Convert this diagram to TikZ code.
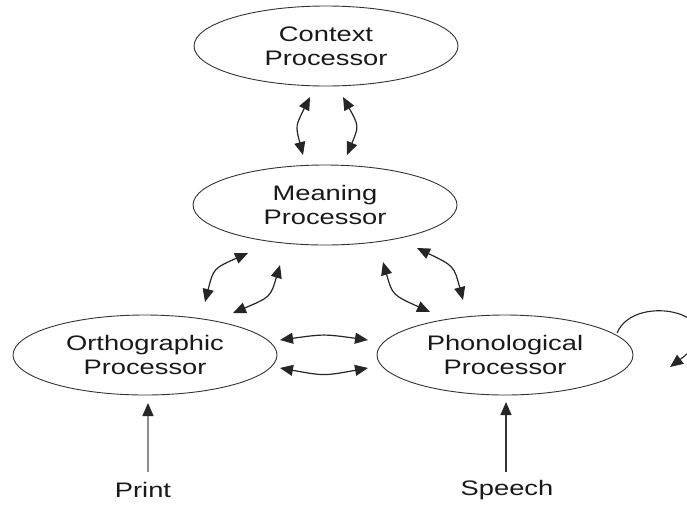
\documentclass[tikz,border=0pt]{standalone}
\usepackage{fontspec}
\setmainfont{Liberation Sans}
\usepackage{graphicx}
\usetikzlibrary{shapes.geometric,arrows.meta,calc}
\newcommand{\hs}[1]{\scalebox{1.3}[1]{#1}}
\begin{document}
\begin{tikzpicture}[x=1pt,y=-1pt,
  proc/.style={ellipse, draw=black!80, line width=0.9pt, minimum width=264pt, minimum height=80pt, inner sep=0pt, align=center, font=\fontsize{21}{24}\selectfont, text=black!90},
  lbl/.style={font=\fontsize{21}{24}\selectfont, text=black!90, inner sep=0pt},
  link/.style={{Triangle[length=13pt,width=11pt]}-{Triangle[length=13pt,width=11pt]}, line width=1.2pt, draw=black!85, fill=none},
  inarrow/.style={-{Triangle[length=13pt,width=11pt,color=black!85]}, line width=1.3pt}
]
\useasboundingbox (0,0) rectangle (687,504);
\clip (0,0) rectangle (687,504);
\node[proc] (ctx) at (326,46) {\hs{Context}\\\hs{Processor}};
\node[proc] (mean) at (325,205) {\hs{Meaning}\\\hs{Processor}};
\node[proc] (orth) at (145,355) {\hs{Orthographic}\\\hs{Processor}};
\node[proc, minimum width=256pt] (phon) at (505,355) {\hs{Phonological}\\\hs{Processor}};
\node[lbl] (print) at (143,490) {\hs{Print}};
\node[lbl] (speech) at (507,490) {\hs{Speech}};
% context <-> meaning
\draw[link] ($(ctx)+(-16,51)$) .. controls ($(ctx)+(-30.5,80)$) .. ($(mean)+(-22,-50)$);
\draw[link] ($(ctx)+(17,51)$) .. controls ($(ctx)+(33,80)$) .. ($(mean)+(22,-50)$);
% meaning <-> orthographic
\draw[link] ($(mean)+(-77,48)$) .. controls ($(mean)+(-111.5,63.5)$) .. ($(orth)+(60,-53)$);
\draw[link] ($(mean)+(-45,60)$) .. controls ($(mean)+(-54.5,92)$) .. ($(orth)+(88,-42)$);
% meaning <-> phonological
\draw[link] ($(mean)+(58,57)$) .. controls ($(mean)+(67.5,90)$) .. ($(phon)+(-75,-43)$);
\draw[link] ($(mean)+(92,43)$) .. controls ($(mean)+(129,61)$) .. ($(phon)+(-42,-55)$);
% orthographic <-> phonological
\draw[link] ($(orth)+(135,-15)$) .. controls ($(orth)+(179,-21)$) .. ($(phon)+(-137,-15)$);
\draw[link] ($(orth)+(135,13)$) .. controls ($(orth)+(179,21)$) .. ($(phon)+(-137,13)$);
% self loop
\draw[-{Triangle[length=13pt,width=11pt]}, line width=1.1pt, draw=black!85] ($(phon)+(112,-22)$) .. controls ($(phon)+(130,-65)$) and ($(phon)+(235,-40)$) .. ($(phon)+(165,12)$);
% inputs
\draw[inarrow, draw=black!45] ($(orth)+(3,117)$) -- ($(orth)+(3,48)$);
\draw[inarrow, draw=black!80] ($(phon)+(1,117)$) -- ($(phon)+(1,47)$);
\end{tikzpicture}
\end{document}
